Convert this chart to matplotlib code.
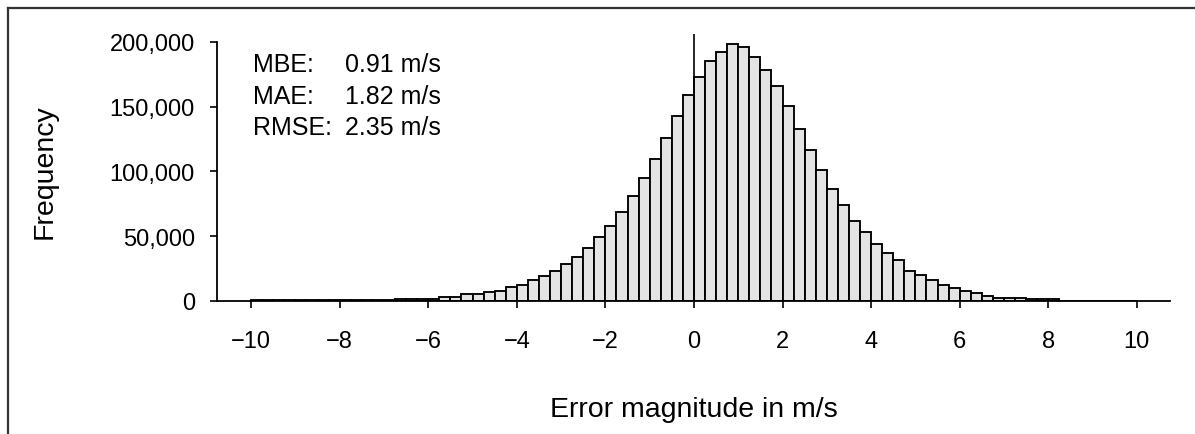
import matplotlib
matplotlib.use("Agg")
import matplotlib.pyplot as plt
from matplotlib.lines import Line2D
import numpy as np

# Histogram of error magnitude, bins of 0.25 m/s from -10 to 10
bin_width = 0.25
bin_left = np.arange(-10, 10, bin_width)

# counts, left to right
counts = [
    500, 500, 500, 500, 500, 500, 500, 500, 500, 500, 500, 500, 500,   # -10 .. -6.75
    1800, 1800, 1800, 1800,                                             # -6.75 .. -5.75
    3100, 3100, 5100, 5100, 6900, 8000, 10500, 12400, 16200, 19500,
    23400, 28500, 33700, 40600, 49600, 58100, 68900, 81300, 95200,
    109600, 125500, 143000, 159000,                                     # .. 0
    173100, 185400, 192400, 198000, 196000, 188500, 178200, 166100,
    150100, 132800, 116800, 100800, 86700, 74300, 62000, 53200, 44200,
    37300, 31600, 23500, 19800, 15900, 12400, 9900, 8000, 5900, 4100,
    2700, 2700, 2700,                                                   # .. 7.5
    1300, 1300, 1300,                                                   # 7.5 .. 8.25
    300, 300, 300, 300, 300, 300, 300,                                  # 8.25 .. 10
]

xticks = [-10, -8, -6, -4, -2, 0, 2, 4, 6, 8, 10]
yticks = [0, 50000, 100000, 150000, 200000]
ytick_labels = ["0", "50,000", "100,000", "150,000", "200,000"]

stat_names = ["MBE:", "MAE:", "RMSE:"]
stat_values = ["0.91 m/s", "1.82 m/s", "2.35 m/s"]

plt.rcParams["font.family"] = ["Liberation Sans", "DejaVu Sans"]

W, H = 1195, 435
fig = plt.figure(figsize=(W / 100, H / 100), dpi=100)
ax = fig.add_axes([217 / W, 133 / H, (1170 - 217) / W, 272.2 / H])

ax.bar(bin_left, counts, width=bin_width, align="edge",
       color="#e4e4e4", edgecolor="black", linewidth=1.35)
# reference line at zero error
ax.vlines(0, 0, 206000, color="black", linewidth=1.2)

ax.set_xlim(-10.77, 10.75)
ax.set_ylim(0, 210000)
ax.set_xticks(xticks)
ax.set_xticklabels([("\u2212" + str(-t)) if t < 0 else str(t) for t in xticks])
ax.set_yticks(yticks)
ax.set_yticklabels(ytick_labels)

ax.spines["top"].set_visible(False)
ax.spines["right"].set_visible(False)
ax.spines["left"].set_bounds(0, 200000)
for s in ("left", "bottom"):
    ax.spines[s].set_linewidth(1.3)
ax.tick_params(direction="out", length=5, width=1.2, labelsize=17, colors="black")
ax.tick_params(axis="y", pad=11)
ax.tick_params(axis="x", pad=16)

ax.set_xlabel("Error magnitude in m/s", fontsize=20.5, va="baseline")
ax.xaxis.set_label_coords((694 - 217) / 953, (302 - 417) / 272.2)
ax.set_ylabel("Frequency", fontsize=20.5, va="center")
ax.yaxis.set_label_coords((45 - 217) / 953, (302 - 172) / 272.2)

for i, (n, v) in enumerate(zip(stat_names, stat_values)):
    y = 183000 - i * 24500
    ax.text(-9.95, y, n, fontsize=18, va="center", ha="left")
    ax.text(-7.88, y, v, fontsize=18, va="center", ha="left")

# frame of the original figure (top and left edges only are in view)
fig.add_artist(Line2D([8 / W, 1.0], [1 - 9 / H, 1 - 9 / H], color="#333333", linewidth=1.6))
fig.add_artist(Line2D([8 / W, 8 / W], [0, 1 - 9 / H], color="#333333", linewidth=1.6))

fig.savefig("out.png", dpi=100)
